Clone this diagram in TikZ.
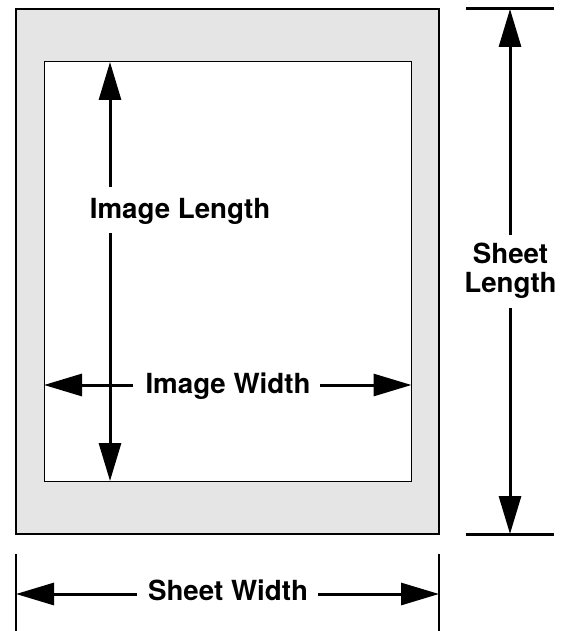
\documentclass[tikz,border=0pt]{standalone}
\usepackage{fontspec}
\setmainfont{TeX Gyre Heros}
\usetikzlibrary{arrows.meta}
\definecolor{sheetgray}{HTML}{E5E5E5}
\tikzset{
  dimarrow/.style={line width=3pt, -{Triangle[width=22pt,length=38pt]}},
  lbl/.style={font=\bfseries\fontsize{27.7}{29}\selectfont, inner sep=0pt, anchor=base},
  bar/.style={line width=3pt},
  thinbar/.style={line width=2pt},
}
\begin{document}
\begin{tikzpicture}[x=1pt,y=-1pt]
\useasboundingbox (0,0) rectangle (563,631);
% sheet and image
\draw[line width=1.4pt, fill=sheetgray] (16,9) rectangle (439,534);
\draw[line width=1pt, fill=white] (44,62) rectangle (411.5,481);
% named points
\coordinate (ilt) at (110,62);
\coordinate (ilb) at (110,481);
\coordinate (ilgt) at (110,187);
\coordinate (ilgb) at (110,233);
\coordinate (iwl) at (44,385);
\coordinate (iwr) at (411.5,385);
\coordinate (iwgl) at (133,385);
\coordinate (iwgr) at (320,385);
\coordinate (slt) at (510,9);
\coordinate (slb) at (510,534);
\coordinate (slgt) at (510,235);
\coordinate (slgb) at (510,308);
\coordinate (swl) at (16,594);
\coordinate (swr) at (439,594);
\coordinate (swgl) at (137,594);
\coordinate (swgr) at (318,594);
% labels
\node[lbl] (il) at (180,218) {Image Length};
\node[lbl] (iw) at (228,393) {Image Width};
\node[lbl] (sl1) at (510.5,263) {Sheet};
\node[lbl] (sl2) at (510.5,292) {Length};
\node[lbl] (sw) at (228,600) {Sheet Width};
% image length
\draw[dimarrow] (ilgt) -- (ilt);
\draw[dimarrow] (ilgb) -- (ilb);
% image width
\draw[dimarrow] (iwgl) -- (iwl);
\draw[dimarrow] (iwgr) -- (iwr);
% sheet length
\coordinate (sltl) at (466,9);
\coordinate (sltr) at (554,9);
\coordinate (slbl) at (466,534);
\coordinate (slbr) at (554,534);
\draw[bar] (sltl) -- (sltr);
\draw[bar] (slbl) -- (slbr);
\draw[dimarrow] (slgt) -- (slt);
\draw[dimarrow] (slgb) -- (slb);
% sheet width
\coordinate (swlt) at (16,554);
\coordinate (swlb) at (16,631);
\coordinate (swrt) at (439,554);
\coordinate (swrb) at (439,631);
\draw[thinbar] (swlt) -- (swlb);
\draw[thinbar] (swrt) -- (swrb);
\draw[dimarrow] (swgl) -- (swl);
\draw[dimarrow] (swgr) -- (swr);
\end{tikzpicture}
\end{document}
